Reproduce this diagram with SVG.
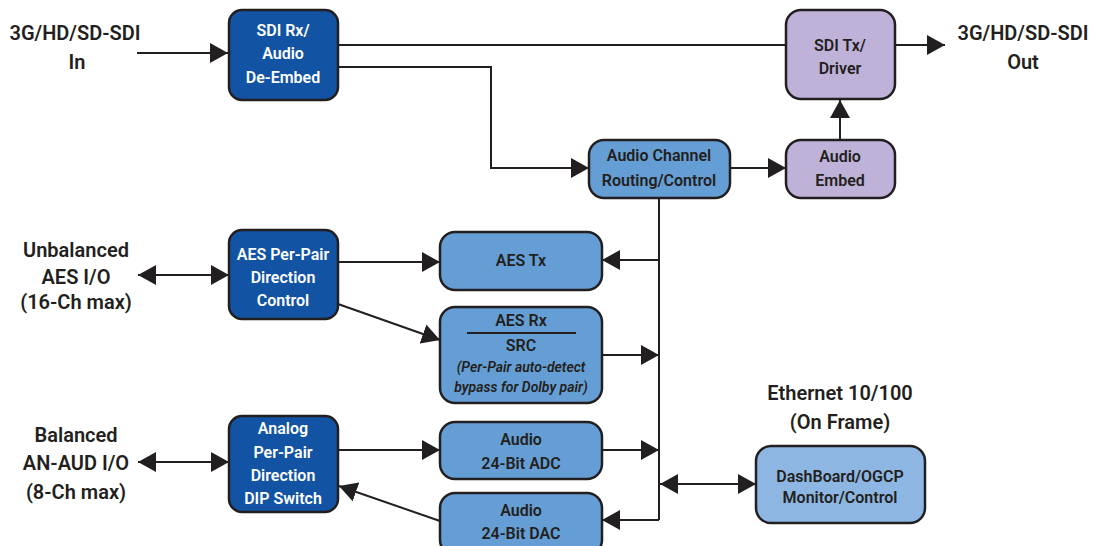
<svg xmlns="http://www.w3.org/2000/svg" width="1107" height="546" viewBox="0 0 1107 546">
<style>
  text { font-family: Roboto, "Liberation Sans", sans-serif; font-weight: 600; text-anchor: middle; dominant-baseline: central; fill: #231F20; }
  .lbl { font-size: 20px; }
  .nt { font-size: 16px; }
  .w { fill: #FFFFFF; }
  .it { font-style: italic; font-size: 14px; }
  .dark { fill: #1253A4; stroke: #231F20; stroke-width: 2.5; }
  .mid { fill: #659ED4; stroke: #231F20; stroke-width: 2.5; }
  .light { fill: #8DB6E2; stroke: #231F20; stroke-width: 2.5; }
  .purp { fill: #BFB2D8; stroke: #231F20; stroke-width: 2.5; }
  .c { fill: none; stroke: #231F20; stroke-width: 2; }
</style>
<defs>
  <marker id="ah" markerUnits="userSpaceOnUse" markerWidth="18" markerHeight="20" refX="18" refY="10" orient="auto-start-reverse">
    <path d="M0,0 L18,10 L0,20 z" fill="#231F20"/>
  </marker>
</defs>
<rect width="1107" height="546" fill="#FFFFFF"/>

<g id="labels">
  <text class="lbl" x="75" y="33">3G/HD/SD-SDI</text>
  <text class="lbl" x="77" y="62">In</text>
  <text class="lbl" x="1023" y="33">3G/HD/SD-SDI</text>
  <text class="lbl" x="1023" y="62">Out</text>
  <text class="lbl" x="76" y="250">Unbalanced</text>
  <text class="lbl" x="76" y="277">AES I/O</text>
  <text class="lbl" x="76" y="302">(16-Ch max)</text>
  <text class="lbl" x="76" y="435">Balanced</text>
  <text class="lbl" x="76" y="463">AN-AUD I/O</text>
  <text class="lbl" x="76" y="492">(8-Ch max)</text>
  <text class="lbl" x="840" y="393">Ethernet 10/100</text>
  <text class="lbl" x="840" y="422">(On Frame)</text>
</g>

<g id="connectors">
  <path class="c" d="M137,53 H228" marker-end="url(#ah)"/>
  <path class="c" d="M338,45 H786"/>
  <path class="c" d="M338,67 H491 V168 H589" marker-end="url(#ah)"/>
  <path class="c" d="M730,168 H786" marker-end="url(#ah)"/>
  <path class="c" d="M840,140 V100" marker-end="url(#ah)"/>
  <path class="c" d="M895,45 H945" marker-end="url(#ah)"/>
  <path class="c" d="M659,198 V520"/>
  <path class="c" d="M659,260 H602" marker-end="url(#ah)"/>
  <path class="c" d="M602,355 H659" marker-end="url(#ah)"/>
  <path class="c" d="M602,450 H659" marker-end="url(#ah)"/>
  <path class="c" d="M659,520 H602" marker-end="url(#ah)"/>
  <path class="c" d="M660,484 H756" marker-start="url(#ah)" marker-end="url(#ah)"/>
  <path class="c" d="M138,275 H229" marker-start="url(#ah)" marker-end="url(#ah)"/>
  <path class="c" d="M338,262 H440" marker-end="url(#ah)"/>
  <path class="c" d="M338,304 L440,340" marker-end="url(#ah)"/>
  <path class="c" d="M138,462 H229" marker-start="url(#ah)" marker-end="url(#ah)"/>
  <path class="c" d="M338,450 H440" marker-end="url(#ah)"/>
  <path class="c" d="M440,521 L339,486" marker-end="url(#ah)"/>
</g>

<g id="sdi-rx">
  <rect class="dark" x="229" y="10" width="109" height="90" rx="13"/>
  <text class="nt w" x="283" y="30">SDI Rx/</text>
  <text class="nt w" x="283" y="53">Audio</text>
  <text class="nt w" x="283" y="77">De-Embed</text>
</g>
<g id="sdi-tx">
  <rect class="purp" x="786" y="10" width="109" height="89" rx="15"/>
  <text class="nt" x="840" y="45">SDI Tx/</text>
  <text class="nt" x="840" y="68">Driver</text>
</g>
<g id="audio-channel">
  <rect class="mid" x="589" y="140" width="141" height="58" rx="15"/>
  <text class="nt" x="659" y="155">Audio Channel</text>
  <text class="nt" x="659" y="180">Routing/Control</text>
</g>
<g id="audio-embed">
  <rect class="purp" x="786" y="140" width="109" height="58" rx="15"/>
  <text class="nt" x="840" y="156">Audio</text>
  <text class="nt" x="840" y="180">Embed</text>
</g>
<g id="aes-per-pair">
  <rect class="dark" x="229" y="230" width="109" height="89" rx="13"/>
  <text class="nt w" x="283" y="254">AES Per-Pair</text>
  <text class="nt w" x="283" y="277">Direction</text>
  <text class="nt w" x="283" y="300">Control</text>
</g>
<g id="aes-tx">
  <rect class="mid" x="440" y="232" width="162" height="58" rx="15"/>
  <text class="nt" x="521" y="260">AES Tx</text>
</g>
<g id="aes-rx">
  <rect class="mid" x="440" y="307" width="162" height="96" rx="15"/>
  <text class="nt" x="521" y="320">AES Rx</text>
  <line x1="467" y1="333" x2="576" y2="333" stroke="#231F20" stroke-width="2"/>
  <text class="nt" x="521" y="345">SRC</text>
  <text class="it" x="521" y="367">(Per-Pair auto-detect</text>
  <text class="it" x="521" y="387">bypass for Dolby pair)</text>
</g>
<g id="analog-per-pair">
  <rect class="dark" x="229" y="416" width="109" height="96" rx="13"/>
  <text class="nt w" x="283" y="428">Analog</text>
  <text class="nt w" x="283" y="452">Per-Pair</text>
  <text class="nt w" x="283" y="475">Direction</text>
  <text class="nt w" x="283" y="498">DIP Switch</text>
</g>
<g id="adc">
  <rect class="mid" x="440" y="422" width="162" height="57" rx="15"/>
  <text class="nt" x="521" y="439">Audio</text>
  <text class="nt" x="521" y="463">24-Bit ADC</text>
</g>
<g id="dac">
  <rect class="mid" x="440" y="493" width="162" height="62" rx="15"/>
  <text class="nt" x="521" y="510">Audio</text>
  <text class="nt" x="521" y="533">24-Bit DAC</text>
</g>
<g id="dashboard">
  <rect class="light" x="756" y="446" width="169" height="77" rx="15"/>
  <text class="nt" x="840" y="476">DashBoard/OGCP</text>
  <text class="nt" x="840" y="497">Monitor/Control</text>
</g>
</svg>
